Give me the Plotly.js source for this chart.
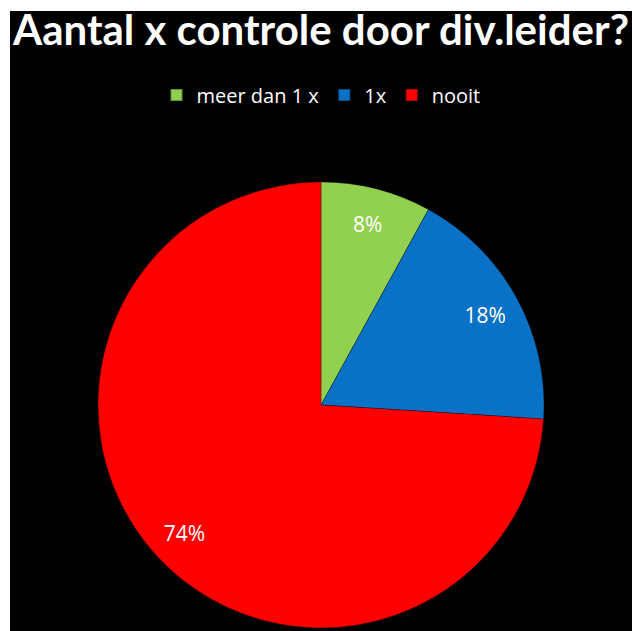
<!DOCTYPE html>
<html>
<head>
<meta charset="utf-8">
<script src="https://cdn.plot.ly/plotly-3.0.1.min.js"></script>
<style>
html, body { margin: 0; padding: 0; background: #ffffff; width: 632px; height: 631px; overflow: hidden; }
#chart { position: absolute; left: 0; top: 0; width: 632px; height: 631px; }
</style>
</head>
<body>
<div id="chart"></div>
<script>
const categories = ["meer dan 1 x", "1x", "nooit"];
const values = [8, 18, 74];
const colors = ["#92D050", "#0A72C6", "#FF0000"];
const chartTitle = "Aantal x controle door div.leider?";

const pieDomain = { x: [0.1551, 0.8608], y: [0.0048, 0.7116] };

const slices = {
  type: "pie",
  labels: categories,
  values: values,
  sort: false,
  direction: "clockwise",
  rotation: 0,
  marker: { colors: colors, line: { color: "rgba(0,0,0,0.3)", width: 1 } },
  textinfo: "none",
  domain: pieDomain,
  hoverinfo: "label+percent"
};

// transparent ring carrying the percentage labels near the rim
const labelsRing = {
  type: "pie",
  labels: categories,
  values: values,
  sort: false,
  direction: "clockwise",
  rotation: 0,
  hole: 0.68,
  showlegend: false,
  marker: { colors: ["rgba(0,0,0,0)", "rgba(0,0,0,0)", "rgba(0,0,0,0)"], line: { width: 0 } },
  textinfo: "percent",
  texttemplate: "%{percent:.0%}",
  textposition: "inside",
  insidetextorientation: "horizontal",
  textfont: { color: "#ffffff", size: 21, family: "Open Sans, sans-serif" },
  domain: pieDomain,
  hoverinfo: "skip"
};

const layout = {
  width: 632,
  height: 631,
  paper_bgcolor: "#000000",
  plot_bgcolor: "#000000",
  margin: { l: 0, r: 0, t: 0, b: 0 },
  title: {
    text: "<b>" + chartTitle + "</b>",
    font: { family: "Lato, sans-serif", size: 42, color: "#ffffff" },
    x: 0.5079, xanchor: "center",
    y: 0.9512, yanchor: "middle",
    xref: "paper", yref: "container"
  },
  showlegend: true,
  legend: {
    orientation: "h",
    x: 0.5079, xanchor: "center",
    y: 0.8494, yanchor: "middle",
    font: { family: "Open Sans, sans-serif", size: 20, color: "#ffffff" },
    bgcolor: "rgba(0,0,0,0)",
    itemsizing: "constant"
  },
  shapes: [
    { type: "rect", xref: "paper", yref: "paper", x0: 0, x1: 10 / 632, y0: 0, y1: 1,
      fillcolor: "#ffffff", line: { width: 0 }, layer: "above" },
    { type: "rect", xref: "paper", yref: "paper", x0: 0, x1: 1, y0: 1 - 11 / 631, y1: 1,
      fillcolor: "#ffffff", line: { width: 0 }, layer: "above" }
  ]
};

Plotly.newPlot("chart", [slices, labelsRing], layout, { displayModeBar: false, staticPlot: true });
</script>
</body>
</html>
